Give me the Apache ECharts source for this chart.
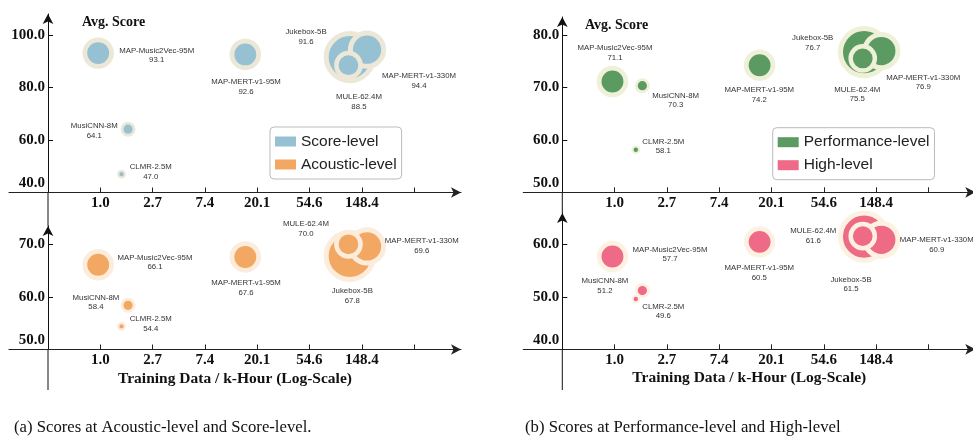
<!DOCTYPE html>
<html><head><meta charset="utf-8">
<script src="https://cdn.jsdelivr.net/npm/echarts@6/dist/echarts.min.js"></script>
<style>html,body{margin:0;padding:0;background:#fff}#c{width:973px;height:443px}</style>
</head><body><div id="c"></div>
<script>
// ---------- data ----------
const models = ['MAP-Music2Vec-95M','MusiCNN-8M','CLMR-2.5M','MAP-MERT-v1-95M','Jukebox-5B','MAP-MERT-v1-330M','MULE-62.4M'];
const trainingKHours = [0.96, 1.7, 1.5, 16, 118, 164, 115];
const paramsM = [95, 8, 2.5, 95, 5000, 330, 62.4];
const scoreLevel = [93.1, 64.1, 47.0, 92.6, 91.6, 94.4, 88.5];
const acousticLevel = [66.1, 58.4, 54.4, 67.6, 67.8, 69.6, 70.0];
const performanceLevel = [71.1, 70.3, 58.1, 74.2, 76.7, 76.9, 75.5];
const highLevel = [57.7, 51.2, 49.6, 60.5, 61.5, 60.9, 61.6];
const xTickExponents = [0, 1, 2, 3, 4, 5, 6];     // ticks at e^k k-hours
const xLabelExponents = [0, 1, 2, 3, 4, 5];
const yTicksScore = [40, 60, 80, 100];
const yTicksAcoustic = [50, 60, 70];
const yTicksPerformance = [50, 60, 70, 80];
const yTicksHigh = [40, 50, 60];

// ---------- layout / style ----------
const SERIF = 'Liberation Serif', SANS = 'Liberation Sans';
const panels = [
  {name:'Score-level', values:scoreLevel, color:'#95c1d2', halo:'#ede7d8', ticks:yTicksScore,
   grid:{left:9, right:512, top:14, bottom:250.5}, yMin:40, yMax:108.0, xName:false,
   offsets:[[58.5,2.2],[-33.8,1.8],[29.2,-2.1],[0.7,32.3],[-43.8,-20.4],[52,31.3],[10.5,36.8]]},
  {name:'Acoustic-level', values:acousticLevel, color:'#f2a862', halo:'#fcecdc', ticks:yTicksAcoustic,
   grid:{left:9, right:512, top:226, bottom:93.5}, yMin:50, yMax:73.48, xName:true,
   offsets:[[56.8,-2.5],[-32.1,-3.1],[29.2,-2.5],[0.7,31.1],[2.5,39.7],[54.7,-0.9],[-42.5,-15.3]]},
  {name:'Performance-level', values:performanceLevel, color:'#5b9b62', halo:'#eef0d8', ticks:yTicksPerformance,
   grid:{left:523.3, right:-2.3, top:17, bottom:250.7}, yMin:50, yMax:83.39, xName:false,
   offsets:[[2.5,-28.8],[33.3,14.5],[27.5,-3.5],[-0.3,29.9],[-51.4,-9.4],[42,31.2],[-5.5,35.9]]},
  {name:'High-level', values:highLevel, color:'#ee6a86', halo:'#fdf2e2', ticks:yTicksHigh,
   grid:{left:523.3, right:-2.3, top:213, bottom:93.7}, yMin:40, yMax:66.01, xName:true,
   offsets:[[57.5,-2.1],[-37.4,-5.1],[27.5,12.5],[-0.3,31.3],[-13.1,47.8],[55.4,5.1],[-49.5,-0.1]]}
];
const U_MIN = -0.746, U_MAX = 7.897;   // axis coordinate u = ln(kHours) + 1
const Y_AXIS_SHIFT = 39;               // y axis sits at u = 0, 39px right of grid edge
const rad = p => Math.max(2.2, 2.56 * Math.log(p) - 0.71);
const ring = r => Math.min(5, 1.5 + 0.3 * r);
const tickFont = {fontFamily:SERIF, fontWeight:'bold', fontSize:15, color:'#111'};

const grids = [], xAxes = [], yAxes = [], series = [];
panels.forEach((pn, i) => {
  grids.push(Object.assign({containLabel:false, outerBoundsMode:'none'}, pn.grid));
  xAxes.push({
    gridIndex:i, type:'value', min:U_MIN, max:U_MAX,
    axisLine:{onZero:false, symbol:['none','arrow'], symbolSize:[8,10], lineStyle:{color:'#222', width:1.2}},
    axisTick:{show:true, inside:true, length:5, customValues:xTickExponents.map(k => k + 1), lineStyle:{color:'#222', width:1}},
    axisLabel:Object.assign({customValues:xLabelExponents.map(k => k + 1), margin:3,
      formatter:v => Math.exp(v - 1).toFixed(1)}, tickFont),
    splitLine:{show:false},
    name: pn.xName ? 'Training Data / k-Hour (Log-Scale)' : '',
    nameLocation:'middle', nameGap:21,
    nameTextStyle:{fontFamily:SERIF, fontWeight:'bold', fontSize:15.5, color:'#111'}
  });
  yAxes.push({
    gridIndex:i, type:'value', min:pn.yMin, max:pn.yMax, offset:-Y_AXIS_SHIFT,
    axisLine:{onZero:false, symbol:['none','arrow'], symbolSize:[8,10], lineStyle:{color:'#111', width:1}},
    axisTick:{show:true, inside:true, length:5, customValues:pn.ticks.slice(1), lineStyle:{color:'#111'}},
    axisLabel:Object.assign({customValues:pn.ticks, margin:3, showMinLabel:true,
      formatter:v => v === pn.ticks[0] ? '{lo|' + v.toFixed(1) + '}' : v.toFixed(1),
      rich:{lo:Object.assign({padding:[0,0,18,0]}, tickFont)}}, tickFont),
    splitLine:{show:false}
  });
  series.push({
    type:'scatter', name:pn.name, xAxisIndex:i, yAxisIndex:i,
    itemStyle:{color:pn.color, borderColor:pn.halo, opacity:1},
    symbolSize:val => { const r = rad(val[2]); return 2 * r + ring(r); },
    label:{show:true, position:'inside', color:'#333', fontFamily:SANS, fontSize:7.8, lineHeight:9.7,
      align:'center', verticalAlign:'middle',
      formatter:p => p.name + '\n' + p.value[1].toFixed(1)},
    emphasis:{disabled:true},
    data:models.map((m, j) => ({
      name:m,
      value:[Math.log(trainingKHours[j]) + 1, pn.values[j], paramsM[j]],
      itemStyle:{borderWidth:ring(rad(paramsM[j]))},
      label:{offset:pn.offsets[j]}
    }))
  });
});

const legendCommon = {orient:'vertical', padding:[6,5,6,5], itemGap:6, itemWidth:21, itemHeight:10,
  icon:'rect', borderColor:'#bbb', borderWidth:1, borderRadius:4, backgroundColor:'#fff', selectedMode:false,
  itemStyle:{borderWidth:0},
  textStyle:{fontFamily:SANS, fontSize:15.5, color:'#222', lineHeight:17}};

const line = (x, y1, y2) => ({type:'line', shape:{x1:x, y1:y1, x2:x, y2:y2}, style:{stroke:'#111', lineWidth:1}});
const txt = (x, y, text, font) => ({type:'text', x:x, y:y, style:{text:text, font:font, fill:'#111', verticalAlign:'middle', align:'left'}});

const option = {
  animation:false,
  backgroundColor:'#fff',
  grid:grids, xAxis:xAxes, yAxis:yAxes, series:series,
  legend:[
    Object.assign({data:['Score-level','Acoustic-level'], left:270, top:127}, legendCommon),
    Object.assign({data:['Performance-level','High-level'], left:772.7, top:127.7}, legendCommon)
  ],
  graphic:[
    line(48, 192.5, 226), line(48, 349.5, 390),
    line(562.3, 192.3, 213), line(562.3, 349.3, 390),
    txt(82, 22.7, 'Avg. Score', 'bold 14px "Liberation Serif"'),
    txt(585, 25.7, 'Avg. Score', 'bold 14px "Liberation Serif"'),
    txt(14, 428, '(a) Scores at Acoustic-level and Score-level.', '16.7px "Liberation Serif"'),
    txt(525, 428, '(b) Scores at Performance-level and High-level', '16.7px "Liberation Serif"')
  ]
};
const chart = echarts.init(document.getElementById('c'), null, {renderer:'canvas'});
chart.setOption(option);
</script></body></html>
